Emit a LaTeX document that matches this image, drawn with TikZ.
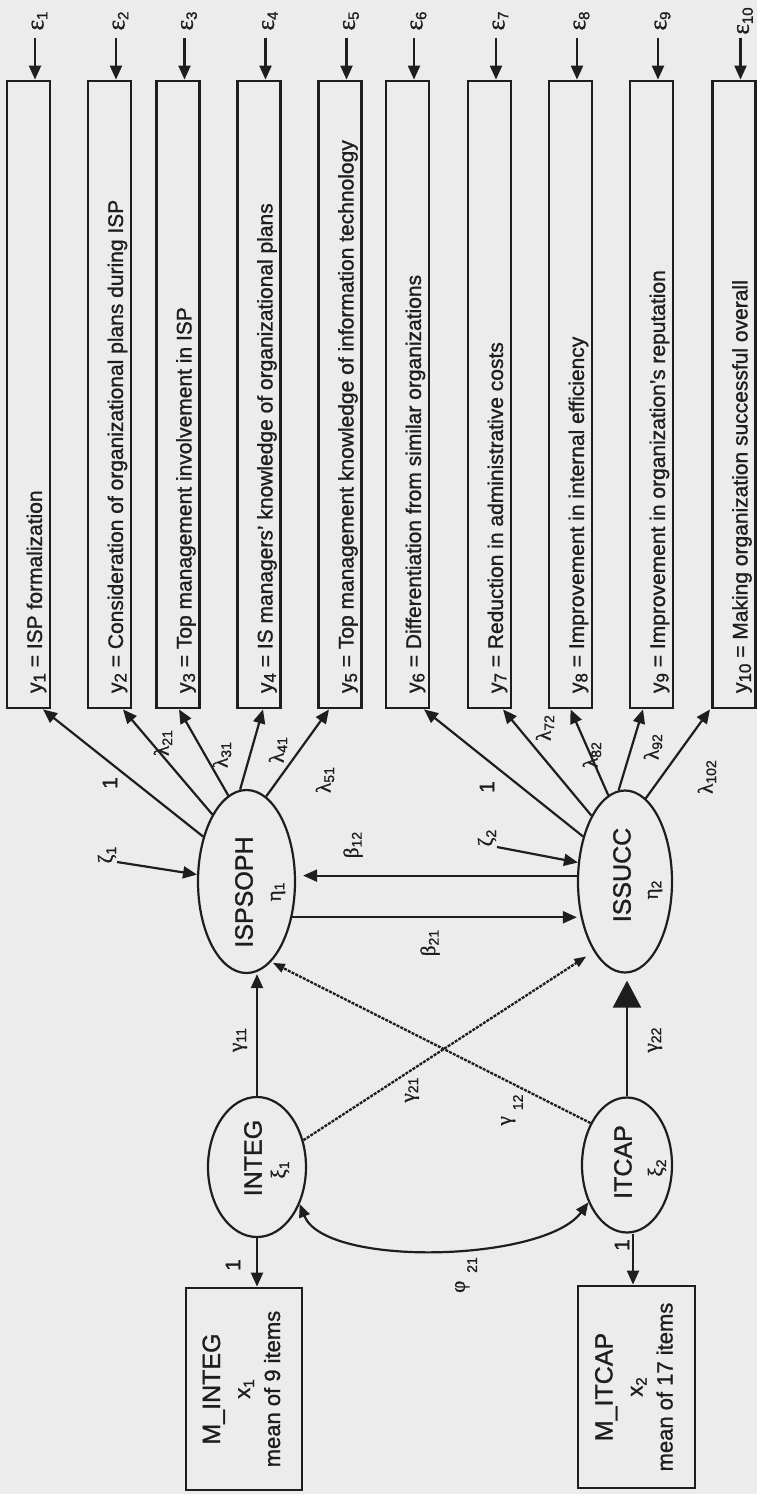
\documentclass[tikz,border=0pt]{standalone}
\usepackage{fontspec}
\setmainfont{Liberation Sans}[FakeBold=1.2]
\newfontfamily\grk{Liberation Serif}[FakeBold=1.2]
\usepackage{graphicx}
\usetikzlibrary{arrows.meta,calc,shapes.geometric}
\definecolor{bg}{RGB}{236,236,236}
\definecolor{ink}{RGB}{30,30,30}
\newcommand\ysub[1]{\raisebox{-3.5pt}{\fontsize{17}{17}\selectfont #1}}
\newcommand\msub[1]{\raisebox{-4pt}{\fontsize{15}{15}\selectfont #1}}
\newcommand\gsub[2]{{\grk #1}\raisebox{-3.5pt}{\fontsize{14}{14}\selectfont #2}}
\newcommand\esub[1]{{\grk ε}\raisebox{-4pt}{\fontsize{15}{15}\selectfont #1}}
\newcommand\ytext[2]{\hspace*{16pt}\rotatebox{90}{\makebox[597pt][l]{y\ysub{#1} = #2}}}
\begin{document}
\begin{tikzpicture}[x=1pt,y=-1pt,
  ind/.style={draw=ink,line width=2.8pt,rectangle,minimum width=43pt,minimum height=627pt,inner sep=0pt,text=ink,font=\fontsize{21}{21}\selectfont},
  mbox/.style={draw=ink,line width=2.8pt,rectangle,inner sep=0pt,text=ink,font=\fontsize{22}{30}\selectfont},
  lv/.style={draw=ink,line width=2.2pt,ellipse,inner sep=0pt},
  elab/.style={inner sep=0pt,text=ink,rotate=90,font=\fontsize{25}{25}\selectfont},
  lab/.style={inner sep=0pt,text=ink,rotate=90,font=\fontsize{21}{21}\selectfont},
  arr/.style={draw=ink,line width=2.2pt,-{Triangle[length=14pt,width=12pt]}},
  bigarr/.style={draw=ink,line width=2.2pt,-{Triangle[length=27pt,width=28pt]}},
  dotarr/.style={draw=ink,line width=2.3pt,dash pattern=on 3pt off 1.2pt,-{Triangle[length=12pt,width=9pt]}},
  phiarr/.style={draw=ink,line width=2.2pt,{Triangle[length=13pt,width=11pt]}-{Triangle[length=13pt,width=11pt]}}
]
\fill[bg] (0,0) rectangle (757,1494);
\useasboundingbox (0,0) rectangle (757,1494);

% indicator boxes
\foreach \i/\cx/\t in {
  1/28.5/{ISP formalization},
  2/109.5/{Consideration of organizational plans during ISP},
  3/178/{Top management involvement in ISP},
  4/259/{IS managers' knowledge of organizational plans},
  5/340/{Top management knowledge of information technology},
  6/407.5/{Differentiation from similar organizations},
  7/489.5/{Reduction in administrative costs},
  8/570.5/{Improvement in internal efficiency},
  9/651.5/{Improvement in organization's reputation},
  10/734/{Making organization successful overall}}{
  \node[ind] (b\i) at (\cx,394.5) {\ytext{\i}{\t}};
  \node[lab,font=\fontsize{25}{25}\selectfont] (e\i) at (\cx+11,21) {\esub{\i}};
  \coordinate (ce\i) at ($(b\i.north)+(6.5,-42)$);
  \draw[arr] (ce\i) -- (ce\i |- b\i.north);
}

% latent variables
\node[lv,minimum width=97pt,minimum height=183pt] (isp) at (246.5,881.5) {};
\node[lv,minimum width=94pt,minimum height=182pt] (iss) at (625,881.5) {};
\node[lv,minimum width=98pt,minimum height=140pt] (integ) at (257,1167) {};
\node[lv,minimum width=90pt,minimum height=135pt] (itcap) at (627,1165) {};

\node[elab] (ispt) at (244,892) {ISPSOPH};
\node[lab] (eta1) at (278,892) {\gsub{η}{1}};
\node[elab] (isst) at (622,875) {ISSUCC};
\node[lab] (eta2) at (655,890) {\gsub{η}{2}};
\node[elab] (integt) at (253,1158) {INTEG};
\node[lab] (xi1) at (280,1170) {\gsub{ξ}{1}};
\node[elab] (itcapt) at (623,1162) {ITCAP};
\node[lab] (xi2) at (657,1168) {\gsub{ξ}{2}};

% measurement boxes for exogenous
\node[mbox,minimum width=116pt,minimum height=202pt] (mi) at (244,1389)
  {\rotatebox{90}{\begin{tabular}{@{}c@{}}{\fontsize{25}{25}\selectfont M\_INTEG}\\ x\msub{1}\\ mean of 9 items\end{tabular}}};
\node[mbox,minimum width=117pt,minimum height=202pt] (mc) at (636.5,1387)
  {\rotatebox{90}{\begin{tabular}{@{}c@{}}{\fontsize{25}{25}\selectfont M\_ITCAP}\\ x\msub{2}\\ mean of 17 items\end{tabular}}};

% loadings
\foreach \i/\a/\o in {1/134/14.5,2/117/13.5,3/102/1,4/94/4,5/77/-11}
  \draw[arr] (isp.\a) -- ($(b\i.south)+(\o,0)$);
\foreach \i/\a/\o in {6/133/16.5,7/117/13.5,8/101/0,9/94/-8.5,10/76/-24}
  \draw[arr] (iss.\a) -- ($(b\i.south)+(\o,0)$);

\node[lab] (l11) at (110,783) {1};
\node[lab] (l21) at (163,743) {\gsub{λ}{21}};
\node[lab] (l31) at (222,755) {\gsub{λ}{31}};
\node[lab] (l41) at (278,750) {\gsub{λ}{41}};
\node[lab] (l51) at (325,780) {\gsub{λ}{51}};
\node[lab] (l62) at (487,787) {1};
\node[lab] (l72) at (545,728) {\gsub{λ}{72}};
\node[lab] (l82) at (592,755) {\gsub{λ}{82}};
\node[lab] (l92) at (653,747) {\gsub{λ}{92}};
\node[lab] (l102) at (707,777) {\gsub{λ}{102}};

% disturbances
\node[lab] (z1) at (107,855) {\gsub{ζ}{1}};
\node[lab] (z2) at (487,838) {\gsub{ζ}{2}};
\coordinate (z1s) at (117,862);
\coordinate (z2s) at (497,847);
\draw[arr] (z1s) -- (isp.172);
\draw[arr] (z2s) -- (iss.158);

% beta paths
\coordinate (b12e) at ($(iss.173 -| isp.east)+(7,0)$);
\draw[arr] (iss.173) -- (b12e);
\draw[arr] (isp.-38.6) -- (isp.-38.6 -| iss.west);
\node[lab] (lb12) at (353,845) {\gsub{β}{12}};
\node[lab] (lb21) at (430,943) {\gsub{β}{21}};

% gamma paths
\draw[arr] (integ.north) -- (integ.north |- isp.south);
\coordinate (g22) at (itcap.north |- iss.south);
\draw[bigarr] (itcap.north) -- ($(g22)+(0,7)$);
\draw[dotarr,shorten >=9pt] (integ.30) -- (iss.246);
\draw[dotarr,shorten >=2pt] (itcap.131) -- (isp.-73);
\node[lab] (lg11) at (240,1040) {\gsub{γ}{11}};
\node[lab] (lg22) at (655,1040) {\gsub{γ}{22}};
\node[lab] (lg21) at (412,1090) {\gsub{γ}{21}};
\node[lab] (lg12) at (512,1110) {{\grk γ}\hspace{6pt}\raisebox{-12pt}{\fontsize{14}{14}\selectfont 12}};

% phi
\draw[phiarr] (integ.-41) .. controls (325,1268) and (545,1262) .. (itcap.224);
\node[lab] (lphi) at (466,1275) {{\grk φ}\hspace{8pt}\raisebox{-12pt}{\fontsize{14}{14}\selectfont 21}};

% x loadings
\draw[arr] (integ.south) -- (integ.south |- mi.north);
\coordinate (ic) at ($(itcap.south)+(6,0)$);
\draw[arr] (ic) -- (ic |- mc.north);
\node[lab] (lx1) at (233,1265) {1};
\node[lab] (lx2) at (622,1245) {1};
\end{tikzpicture}
\end{document}
